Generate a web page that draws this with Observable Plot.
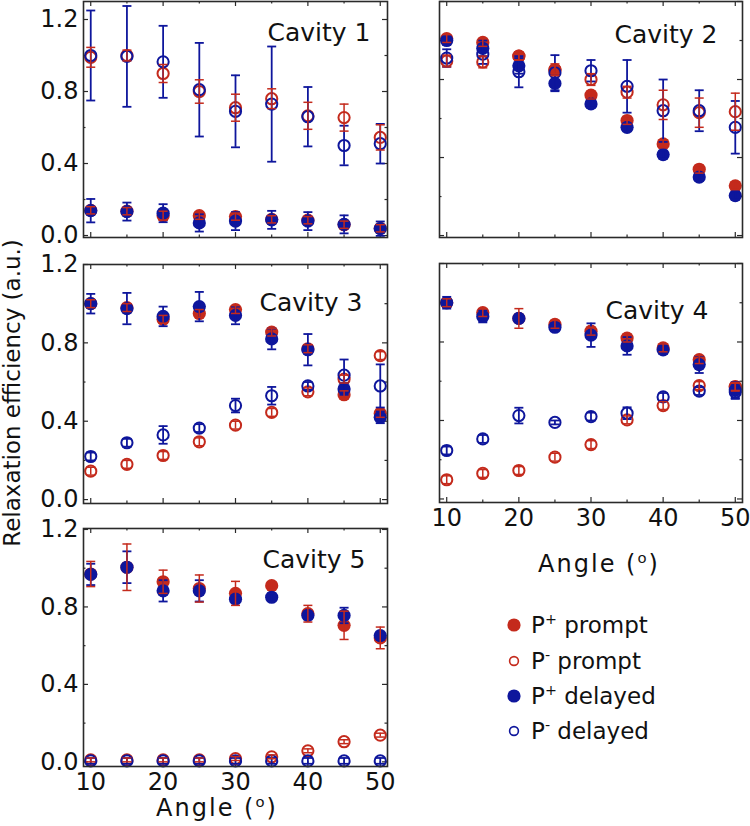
<!DOCTYPE html>
<html>
<head>
<meta charset="utf-8">
<script src="https://cdn.jsdelivr.net/npm/d3@7"></script>
<script src="https://cdn.jsdelivr.net/npm/@observablehq/plot@0.6"></script>
<style>
  body { margin: 0; background: #fff; }
  #chart { position: relative; width: 750px; height: 826px; overflow: hidden; background: #fff;
           font-family: "DejaVu Sans", sans-serif; color: #111; }
  .panel { position: absolute; }
  .txt { position: absolute; white-space: nowrap; line-height: 28px; font-size: 24px; }
  .txt sup { font-size: 62%; line-height: 0; vertical-align: 0.62em; }
  .leg { position: absolute; white-space: nowrap; line-height: 28px; height: 28px; font-size: 23px; }
  .leg sup { font-size: 62%; line-height: 0; vertical-align: 0.6em; }
</style>
</head>
<body>
<div id="chart"></div>
<script>
// ---------------- data ----------------
const angles = [10, 15, 20, 25, 30, 35, 40, 45, 50];
const xMajor = [10, 20, 30, 40, 50];
const xMinor = [15, 25, 35, 45];
const yMajor = [0, 0.4, 0.8, 1.2];
const yMinor = [0.2, 0.6, 1.0];

// Cavity 1
const c1PlusPrompt      = [0.14, 0.135, 0.11, 0.11, 0.105, 0.09, 0.085, 0.06, 0.04];
const c1PlusPromptErr   = [0.02, 0.02, 0.025, 0.02, 0.02, 0.02, 0.02, 0.02, 0.02];
const c1MinusPrompt     = [0.99, 1.0, 0.90, 0.80, 0.71, 0.76, 0.665, 0.655, 0.545];
const c1MinusPromptErr  = [0.055, 0.03, 0.05, 0.065, 0.075, 0.055, 0.075, 0.075, 0.07];
const c1PlusDelayed     = [0.138, 0.133, 0.124, 0.07, 0.08, 0.087, 0.08, 0.062, 0.038];
const c1PlusDelayedErr  = [0.065, 0.05, 0.05, 0.048, 0.05, 0.05, 0.05, 0.05, 0.04];
const c1MinusDelayed    = [1.0, 0.995, 0.965, 0.81, 0.69, 0.73, 0.66, 0.50, 0.51];
const c1MinusDelayedErr = [0.25, 0.28, 0.2, 0.26, 0.2, 0.32, 0.165, 0.11, 0.11];

// Cavity 2
const c2PlusPrompt      = [1.01, 0.99, 0.92, 0.85, 0.72, 0.59, 0.47, 0.34, 0.255];
const c2PlusPromptErr   = [0.02, 0.02, 0.02, 0.02, 0.02, 0.02, 0.02, 0.02, 0.02];
const c2MinusPrompt     = [0.895, 0.89, 0.92, 0.85, 0.80, 0.735, 0.67, 0.63, 0.635];
const c2MinusPromptErr  = [0.03, 0.03, 0.02, 0.03, 0.03, 0.03, 0.075, 0.075, 0.095];
const c2PlusDelayed     = [1.0, 0.96, 0.87, 0.78, 0.675, 0.555, 0.415, 0.30, 0.205];
const c2PlusDelayedErr  = [0.02, 0.04, 0.04, 0.04, 0.02, 0.02, 0.02, 0.02, 0.02];
const c2MinusDelayed    = [0.91, 0.93, 0.84, 0.835, 0.845, 0.765, 0.64, 0.64, 0.555];
const c2MinusDelayedErr = [0.045, 0.05, 0.08, 0.09, 0.055, 0.135, 0.16, 0.105, 0.135];

// Cavity 3
const c3PlusPrompt      = [1.0, 0.98, 0.92, 0.95, 0.97, 0.855, 0.77, 0.535, 0.44];
const c3PlusPromptErr   = [0.02, 0.02, 0.02, 0.02, 0.02, 0.02, 0.02, 0.02, 0.02];
const c3MinusPrompt     = [0.145, 0.18, 0.225, 0.295, 0.38, 0.445, 0.55, 0.615, 0.735];
const c3MinusPromptErr  = [0.02, 0.02, 0.02, 0.02, 0.02, 0.02, 0.02, 0.02, 0.02];
const c3PlusDelayed     = [1.0, 0.975, 0.935, 0.985, 0.94, 0.82, 0.765, 0.565, 0.42];
const c3PlusDelayedErr  = [0.05, 0.08, 0.05, 0.075, 0.045, 0.053, 0.08, 0.03, 0.03];
const c3MinusDelayed    = [0.22, 0.29, 0.33, 0.365, 0.48, 0.53, 0.58, 0.635, 0.58];
const c3MinusDelayedErr = [0.02, 0.02, 0.045, 0.02, 0.035, 0.045, 0.02, 0.08, 0.11];

// Cavity 4
const c4PlusPrompt      = [1.0, 0.95, 0.92, 0.89, 0.855, 0.82, 0.77, 0.71, 0.57];
const c4PlusPromptErr   = [0.02, 0.02, 0.05, 0.02, 0.02, 0.02, 0.02, 0.02, 0.02];
const c4MinusPrompt     = [0.098, 0.13, 0.145, 0.213, 0.277, 0.403, 0.476, 0.578, 0.573];
const c4MinusPromptErr  = [0.02, 0.02, 0.02, 0.02, 0.02, 0.02, 0.02, 0.02, 0.02];
const c4PlusDelayed     = [1.0, 0.93, 0.92, 0.875, 0.835, 0.78, 0.76, 0.685, 0.555];
const c4PlusDelayedErr  = [0.03, 0.03, 0.02, 0.02, 0.06, 0.045, 0.02, 0.043, 0.04];
const c4MinusDelayed    = [0.247, 0.306, 0.425, 0.39, 0.42, 0.437, 0.52, 0.55, 0.545];
const c4MinusDelayedErr = [0.02, 0.02, 0.04, 0.01, 0.02, 0.03, 0.02, 0.02, 0.035];

// Cavity 5
const c5PlusPrompt      = [0.97, 1.005, 0.93, 0.895, 0.87, 0.91, 0.765, 0.705, 0.64];
const c5PlusPromptErr   = [0.065, 0.12, 0.06, 0.07, 0.062, 0.02, 0.043, 0.073, 0.056];
const c5MinusPrompt     = [0.01, 0.01, 0.01, 0.01, 0.017, 0.026, 0.057, 0.104, 0.138];
const c5MinusPromptErr  = [0.01, 0.01, 0.01, 0.01, 0.01, 0.01, 0.01, 0.01, 0.01];
const c5PlusDelayed     = [0.968, 1.005, 0.883, 0.883, 0.84, 0.85, 0.756, 0.756, 0.652];
const c5PlusDelayedErr  = [0.055, 0.082, 0.055, 0.055, 0.02, 0.02, 0.02, 0.04, 0.02];
const c5MinusDelayed    = [0.005, 0.005, 0.005, 0.005, 0.005, 0.005, 0.005, 0.005, 0.005];
const c5MinusDelayedErr = [0.015, 0.015, 0.015, 0.015, 0.015, 0.015, 0.015, 0.015, 0.015];

const cavityNames = ["Cavity 1", "Cavity 2", "Cavity 3", "Cavity 4", "Cavity 5"];
const seriesLabels = [["P", "+", " prompt"], ["P", "-", " prompt"], ["P", "+", " delayed"], ["P", "-", " delayed"]];
const axisTitleX = "Angle (";
const axisTitleY = "Relaxation efficiency (a.u.)";

// ---------------- styles ----------------
const RED = "#c42a1c";
const BLUE = "#0e169c";
const FRAME = "#2a2a2a";
const seriesStyle = [
  { color: RED, filled: true },
  { color: RED, filled: false },
  { color: BLUE, filled: true },
  { color: BLUE, filled: false }
];

const cavityData = [
  [[c1PlusPrompt, c1PlusPromptErr], [c1MinusPrompt, c1MinusPromptErr], [c1PlusDelayed, c1PlusDelayedErr], [c1MinusDelayed, c1MinusDelayedErr]],
  [[c2PlusPrompt, c2PlusPromptErr], [c2MinusPrompt, c2MinusPromptErr], [c2PlusDelayed, c2PlusDelayedErr], [c2MinusDelayed, c2MinusDelayedErr]],
  [[c3PlusPrompt, c3PlusPromptErr], [c3MinusPrompt, c3MinusPromptErr], [c3PlusDelayed, c3PlusDelayedErr], [c3MinusDelayed, c3MinusDelayedErr]],
  [[c4PlusPrompt, c4PlusPromptErr], [c4MinusPrompt, c4MinusPromptErr], [c4PlusDelayed, c4PlusDelayedErr], [c4MinusDelayed, c4MinusDelayedErr]],
  [[c5PlusPrompt, c5PlusPromptErr], [c5MinusPrompt, c5MinusPromptErr], [c5PlusDelayed, c5PlusDelayedErr], [c5MinusDelayed, c5MinusDelayedErr]]
];

// panel layout (positions / margins only)
const layout = [
  { left: 0,   top: 0,   width: 395, height: 240, mt: 1,  mb: 3,  ml: 83, mr: 8, yDomain: [-0.011, 1.3],  xLab: false, yLab: true,  ndx: -17, ndy: 39 },
  { left: 390, top: 0,   width: 360, height: 240, mt: 1,  mb: 3,  ml: 49, mr: 8, yDomain: [-0.01, 1.2],   xLab: false, yLab: false, ndx: -25, ndy: 41 },
  { left: 0,   top: 245, width: 395, height: 265, mt: 19, mb: 7,  ml: 83, mr: 8, yDomain: [-0.02, 1.2],   xLab: false, yLab: true,  ndx: -25, ndy: 46 },
  { left: 390, top: 245, width: 360, height: 290, mt: 18, mb: 33, ml: 49, mr: 8, yDomain: [-0.018, 1.2],  xLab: true,  yLab: false, ndx: -34, ndy: 55 },
  { left: 0,   top: 510, width: 395, height: 290, mt: 18, mb: 34, ml: 83, mr: 8, yDomain: [-0.024, 1.205], xLab: true,  yLab: true,  ndx: -22, ndy: 39 }
];

const capSymbol = {
  draw(ctx, size) {
    const r = Math.sqrt(size / Math.PI);
    ctx.moveTo(-r, 0);
    ctx.lineTo(r, 0);
  }
};

const chart = document.getElementById("chart");

cavityData.forEach((series, ci) => {
  const L = layout[ci];
  const innerW = L.width - L.ml - L.mr;
  const innerH = L.height - L.mt - L.mb;
  const tickStyle = { stroke: FRAME, strokeWidth: 1.2 };
  const inY = (arr) => arr.filter(v => v >= L.yDomain[0] && v <= L.yDomain[1]);
  const marks = [];

  // ticks on all four sides, pointing inward
  for (const [vals, len] of [[xMajor, 5], [xMinor, 2.5]]) {
    marks.push(Plot.tickX(vals, { x: d => d, insetTop: innerH - len, ...tickStyle }));
    marks.push(Plot.tickX(vals, { x: d => d, insetBottom: innerH - len, ...tickStyle }));
  }
  for (const [vals, len] of [[inY(yMajor), 5], [inY(yMinor), 2.5]]) {
    marks.push(Plot.tickY(vals, { y: d => d, insetRight: innerW - len, ...tickStyle }));
    marks.push(Plot.tickY(vals, { y: d => d, insetLeft: innerW - len, ...tickStyle }));
  }

  const rows = series.map(([vals, errs]) => angles.map((a, i) => ({ a, v: vals[i], e: errs[i] })));

  // markers: red first, then blue on top
  rows.forEach((data, si) => {
    const st = seriesStyle[si];
    if (st.filled) {
      marks.push(Plot.dot(data, { x: "a", y: "v", r: 6.6, fill: st.color, stroke: "none" }));
    } else {
      marks.push(Plot.dot(data, { x: "a", y: "v", r: 5.6, fill: "none", stroke: st.color, strokeWidth: 2 }));
    }
  });

  // error bars: blue, then red on top
  [2, 3, 0, 1].forEach(si => {
    const data = rows[si];
    const c = seriesStyle[si].color;
    const sw = si >= 2 ? 1.8 : 1.5;
    marks.push(Plot.ruleX(data, { x: "a", y1: d => d.v - d.e, y2: d => d.v + d.e, stroke: c, strokeWidth: sw }));
    marks.push(Plot.dot(data, { x: "a", y: d => d.v + d.e, symbol: capSymbol, r: 4.5, fill: "none", stroke: c, strokeWidth: sw }));
    marks.push(Plot.dot(data, { x: "a", y: d => d.v - d.e, symbol: capSymbol, r: 4.5, fill: "none", stroke: c, strokeWidth: sw }));
  });

  marks.push(Plot.frame({ stroke: FRAME, strokeWidth: 1.6 }));

  if (L.yLab) marks.push(Plot.axisY(yMajor, { tickSize: 0, tickPadding: 5, tickFormat: d3.format(".1f"), label: null, fontSize: 24 }));
  if (L.xLab) marks.push(Plot.axisX(xMajor, { tickSize: 0, tickPadding: 6, label: null, fontSize: 24 }));

  marks.push(Plot.text([cavityNames[ci]], {
    text: d => d, frameAnchor: "top-right", dx: L.ndx, dy: L.ndy,
    textAnchor: "end", lineAnchor: "bottom", fontSize: 25, fill: "#111"
  }));

  const svg = Plot.plot({
    width: L.width, height: L.height,
    marginTop: L.mt, marginBottom: L.mb, marginLeft: L.ml, marginRight: L.mr,
    x: { domain: [9, 51], axis: L.xLab ? undefined : null },
    y: { domain: L.yDomain, axis: L.yLab ? undefined : null },
    style: { fontFamily: "'DejaVu Sans', sans-serif", fontSize: "24px", background: "transparent", overflow: "visible", color: "#111", maxWidth: "none" },
    marks
  });
  svg.classList.add("panel");
  svg.style.left = L.left + "px";
  svg.style.top = L.top + "px";
  chart.appendChild(svg);
});

// y-axis title (rotated)
const yt = document.createElement("div");
yt.className = "txt";
yt.textContent = axisTitleY;
Object.assign(yt.style, { fontSize: "23px", lineHeight: "22px", left: (11.5 - 200) + "px", top: (392.5 - 11) + "px", width: "400px", height: "22px", textAlign: "center", transform: "rotate(-90deg)" });
chart.appendChild(yt);

// x-axis titles
function angleTitle(cx, baseline) {
  const d = document.createElement("div");
  d.className = "txt";
  d.style.letterSpacing = "2px";
  d.innerHTML = axisTitleX + "<sup>o</sup>)";
  Object.assign(d.style, { left: (cx - 150) + "px", width: "300px", textAlign: "center", top: (baseline - 22.3) + "px" });
  chart.appendChild(d);
}
angleTitle(217, 816);
angleTitle(599, 572);

// legend
const legendY = [625, 660.7, 696, 730.5];
seriesLabels.forEach((lab, i) => {
  const st = seriesStyle[i];
  const ns = "http://www.w3.org/2000/svg";
  const s = document.createElementNS(ns, "svg");
  s.setAttribute("width", 20); s.setAttribute("height", 20);
  Object.assign(s.style, { position: "absolute", left: (514 - 10) + "px", top: (legendY[i] - 10) + "px" });
  const c = document.createElementNS(ns, "circle");
  c.setAttribute("cx", 10); c.setAttribute("cy", 10);
  if (st.filled) { c.setAttribute("r", 6.6); c.setAttribute("fill", st.color); }
  else { c.setAttribute("r", 4.4); c.setAttribute("fill", "none"); c.setAttribute("stroke", st.color); c.setAttribute("stroke-width", 1.6); }
  s.appendChild(c);
  chart.appendChild(s);
  const t = document.createElement("div");
  t.className = "leg";
  t.innerHTML = lab[0] + "<sup>" + lab[1] + "</sup>" + lab[2];
  Object.assign(t.style, { left: "531px", top: (legendY[i] - 14) + "px" });
  chart.appendChild(t);
});
</script>
</body>
</html>
